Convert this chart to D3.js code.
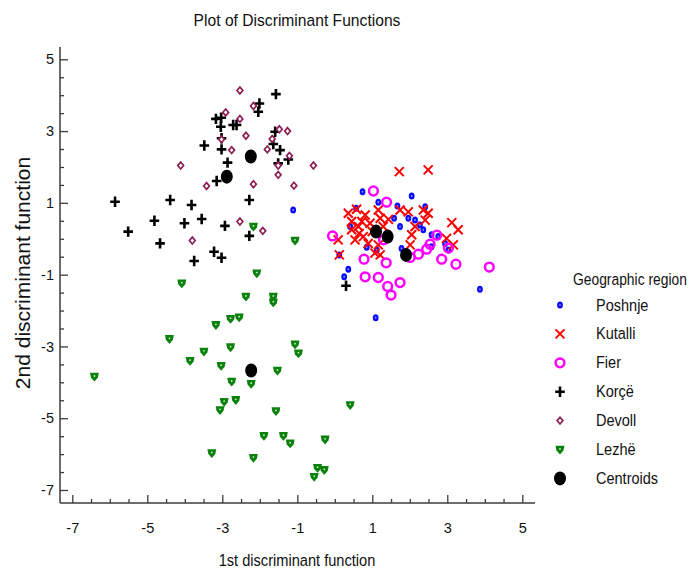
<!DOCTYPE html>
<html>
<head>
<meta charset="utf-8">
<script src="https://cdn.jsdelivr.net/npm/d3@7"></script>
<style>
  html, body { margin: 0; padding: 0; background: #fff; }
  svg { display: block; }
  text { font-family: "Liberation Sans", Arial, sans-serif; fill: #111; }
</style>
</head>
<body>
<svg id="chart" width="699" height="572"></svg>
<script>
// ---------- data ----------
const title = "Plot of Discriminant Functions";
const xLabel = "1st discriminant function";
const yLabel = "2nd discriminant function";
const legendTitle = "Geographic region";
const xTicks = [-7, -5, -3, -1, 1, 3, 5];
const yTicks = [-7, -5, -3, -1, 1, 3, 5];

const poshnje = [[0.74,1.31],[2.05,1.19],[1.16,1.02],[1.67,0.91],[0.57,0.85],[1.74,0.34],[1.58,0.57],[1.96,0.57],[2.14,0.52],[2.27,0.38],[2.36,0.25],[2.41,0.89],[2.58,0.11],[2.76,0.06],[2.58,-0.22],[3.03,-0.31],[2.94,-0.13],[1.78,-0.27],[0.36,-0.85],[0.25,-1.06],[3.87,-1.41],[0.41,0.34],[0.85,-0.24],[1.12,-0.31],[0.12,-0.45],[-1.11,0.80],[1.09,-2.20]];
const kutalli = [[1.72,1.87],[2.49,1.92],[0.36,0.71],[0.58,0.82],[0.81,0.66],[1.16,0.80],[1.43,0.54],[1.74,0.80],[1.96,0.75],[2.14,0.34],[2.36,0.80],[2.49,0.71],[2.41,0.52],[3.12,0.45],[3.29,0.25],[2.98,0.01],[3.16,-0.17],[0.45,0.25],[0.63,0.34],[0.54,-0.03],[0.76,0.06],[0.89,-0.13],[0.72,0.48],[0.94,0.43],[1.21,0.57],[1.07,-0.40],[1.21,-0.45],[0.09,-0.03],[0.12,-0.45],[2.01,-0.17],[1.29,0.34],[0.45,0.48],[1.16,-0.17],[2.05,0.11],[1.00,0.20],[0.65,0.15]];
const fier = [[1.03,1.33],[1.38,1.02],[-0.06,0.08],[0.78,-0.57],[1.37,-0.67],[0.81,-1.06],[1.16,-1.08],[1.41,-1.33],[1.50,-1.57],[1.74,-1.22],[1.30,-0.03],[2.01,-0.52],[2.23,-0.43],[2.45,-0.29],[2.54,-0.15],[2.72,0.10],[3.03,-0.26],[2.85,-0.57],[3.23,-0.71],[4.12,-0.79]];
const korce = [[-1.57,4.03],[-2.01,3.77],[-2.04,3.54],[-3.17,3.34],[-3.03,3.37],[-3.04,3.12],[-2.71,3.17],[-2.62,3.17],[-3.02,2.80],[-3.48,2.60],[-3.02,2.49],[-1.59,2.98],[-1.64,2.64],[-1.46,2.47],[-1.51,2.10],[-1.24,2.21],[-2.86,2.12],[-3.15,1.61],[-5.86,1.03],[-5.51,0.20],[-4.81,0.50],[-4.39,1.08],[-4.66,-0.13],[-3.82,0.94],[-4.01,0.43],[-3.55,0.55],[-2.93,0.36],[-2.28,1.08],[-2.28,0.08],[-3.22,-0.36],[-3.02,-0.53],[-3.75,-0.62],[0.30,-1.31]];
const devoll = [[-2.53,4.13],[-2.17,3.70],[-2.91,3.52],[-2.53,3.34],[-3.02,2.77],[-2.37,2.87],[-2.75,2.47],[-1.48,3.05],[-1.26,3.00],[-1.67,2.78],[-1.80,2.49],[-1.21,2.31],[-1.51,2.04],[-1.51,1.78],[-0.57,2.04],[-4.11,2.04],[-3.42,1.47],[-2.17,1.52],[-1.09,1.48],[-2.53,0.48],[-1.92,0.22],[-3.80,-0.05]];
const lezhe = [[-6.41,-3.84],[-4.08,-1.24],[-2.08,-0.96],[-2.37,-1.61],[-1.64,-1.61],[-1.64,-1.77],[-3.17,-2.40],[-2.78,-2.23],[-2.55,-2.19],[-4.41,-2.79],[-3.49,-3.14],[-2.78,-3.02],[-3.86,-3.40],[-3.03,-3.54],[-1.06,-2.94],[-0.97,-3.19],[-1.53,-3.67],[-2.75,-3.98],[-2.23,-4.04],[-2.95,-4.54],[-3.06,-4.77],[-2.64,-4.49],[-1.57,-4.80],[0.41,-4.63],[-1.89,-5.49],[-1.37,-5.49],[-1.19,-5.70],[-0.26,-5.59],[-3.28,-5.97],[-2.17,-6.10],[-0.46,-6.38],[-0.28,-6.44],[-0.55,-6.63],[-2.17,0.34],[-1.06,-0.05]];
const centroids = [[-2.88,1.73],[-2.24,2.29],[-2.23,-3.67],[1.10,0.20],[1.41,0.06],[1.90,-0.45]];

const groupNames = ["Poshnje", "Kutalli", "Fier", "Korçë", "Devoll", "Lezhë", "Centroids"];
const groupData = [poshnje, kutalli, fier, korce, devoll, lezhe, centroids];
const groupKinds = ["dot", "x", "ring", "plus", "diamond", "shield", "centroid"];

// ---------- drawing ----------
const svg = d3.select("#chart");
const x = d3.scaleLinear().domain([-7, 5]).range([72.3, 522.3]);
const y = d3.scaleLinear().domain([-7, 5]).range([490, 59.3]);
const axisColor = "#3c3c3c";
const plotLeft = 60, plotRight = 535, plotTop = 47, plotBottom = 503;

function sText(g, str, px, py, size, sx, anchor, rot) {
  return g.append("text")
    .attr("font-size", size)
    .attr("text-anchor", anchor || "start")
    .attr("transform", `translate(${px},${py})` + (rot ? ` rotate(${rot})` : "") + ` scale(${sx},1)`)
    .text(str);
}

// title
sText(svg, title, 297, 26, 17, 0.92, "middle");

// axes
const minorX = d3.range(-7, 5.001, 0.5).filter(v => !xTicks.includes(v));
const minorY = d3.range(-7, 5.001, 0.5).filter(v => !yTicks.includes(v));
const gx = svg.append("g").attr("transform", `translate(0,${plotBottom})`);
gx.call(d3.axisBottom(x).tickValues(minorX).tickSize(-4).tickFormat(""));
gx.call(g => g.select(".domain").remove());
const gx2 = svg.append("g").attr("transform", `translate(0,${plotBottom})`);
gx2.call(d3.axisBottom(x).tickValues(xTicks).tickSize(-8).tickPadding(20).tickFormat(d => String(d)));
gx2.call(g => g.select(".domain").remove());

const gy = svg.append("g").attr("transform", `translate(${plotLeft},0)`);
gy.call(d3.axisLeft(y).tickValues(minorY).tickSize(-4).tickFormat(""));
gy.call(g => g.select(".domain").remove());
const gy2 = svg.append("g").attr("transform", `translate(${plotLeft},0)`);
gy2.call(d3.axisLeft(y).tickValues(yTicks).tickSize(-8).tickPadding(6).tickFormat(d => String(d)));
gy2.call(g => g.select(".domain").remove());

svg.selectAll(".tick line").attr("stroke", axisColor).attr("stroke-width", 1.3);
svg.selectAll(".tick text").attr("font-size", 14.5).attr("font-family", "Liberation Sans, Arial, sans-serif").attr("fill", "#111");

svg.append("line").attr("x1", plotLeft).attr("x2", plotRight).attr("y1", plotBottom).attr("y2", plotBottom)
  .attr("stroke", axisColor).attr("stroke-width", 1.5);
svg.append("line").attr("x1", plotLeft).attr("x2", plotLeft).attr("y1", plotTop).attr("y2", plotBottom)
  .attr("stroke", axisColor).attr("stroke-width", 1.5);

// axis titles
sText(svg, xLabel, 297, 566, 17, 0.86, "middle");
sText(svg, yLabel, 30, 273, 21, 1.0, "middle", -90);

// markers
function marker(g, kind, cx, cy) {
  const m = g.append("g").attr("transform", `translate(${cx},${cy})`);
  switch (kind) {
    case "dot":
      m.append("ellipse").attr("rx", 2.9).attr("ry", 3.5).attr("fill", "#0a0aff");
      m.append("ellipse").attr("rx", 0.9).attr("ry", 1.1).attr("fill", "#8c8cff");
      break;
    case "x":
      m.append("path").attr("d", "M-4.5,-4.5L4.5,4.5M-4.5,4.5L4.5,-4.5")
        .attr("stroke", "#ff0000").attr("stroke-width", 2).attr("fill", "none");
      break;
    case "ring":
      m.append("circle").attr("r", 4.4).attr("fill", "none")
        .attr("stroke", "#ff00ff").attr("stroke-width", 2.5);
      break;
    case "plus":
      m.append("path").attr("d", "M-4.8,0L4.8,0M0,-5.2L0,5.2")
        .attr("stroke", "#000").attr("stroke-width", 2.6).attr("fill", "none");
      break;
    case "diamond":
      m.append("path").attr("d", "M0,-3.4L2.9,0L0,3.4L-2.9,0Z")
        .attr("stroke", "#8b1d55").attr("stroke-width", 1.7).attr("fill", "#fff");
      break;
    case "shield":
      m.append("path").attr("d", "M-4.4,-3.8L4.4,-3.8L3.5,0.9L0,5L-3.5,0.9Z").attr("fill", "#0b820b");
      m.append("circle").attr("cy", -0.6).attr("r", 0.9).attr("fill", "#cfe8cf");
      break;
    case "centroid":
      m.append("ellipse").attr("rx", 6).attr("ry", 7).attr("fill", "#000");
      break;
  }
}

const pts = svg.append("g");
groupData.forEach((data, i) => {
  data.forEach(d => marker(pts, groupKinds[i], x(d[0]), y(d[1])));
});

// legend
const lg = svg.append("g");
sText(lg, legendTitle, 573, 285, 16.5, 0.84, "start");
groupNames.forEach((name, i) => {
  const cy = 305 + i * 28.9;
  marker(lg, groupKinds[i], 560, cy);
  sText(lg, name, 596, cy + 5.5, 16.5, 0.88, "start");
});
</script>
</body>
</html>
